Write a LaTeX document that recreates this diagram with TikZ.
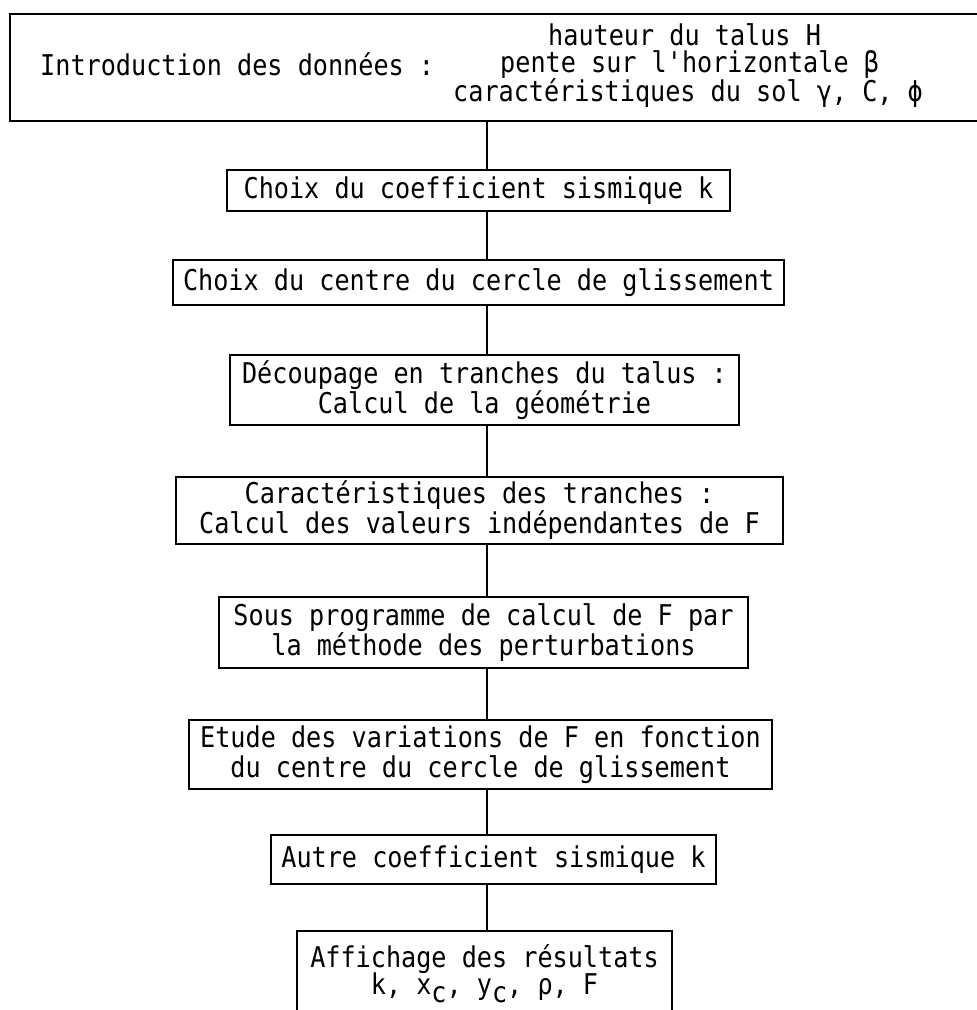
\documentclass[tikz,border=0pt]{standalone}
\usepackage{fontspec}
\newfontfamily\typew[FakeStretch=0.88]{DejaVu Sans Mono}
\begin{document}
\begin{tikzpicture}[x=1pt,y=-1pt,
  box/.style={draw, line width=1.8pt, inner sep=0pt, align=center,
    font=\typew\fontsize{28.6}{30}\selectfont},
  txt/.style={inner sep=0pt, align=center, font=\typew\fontsize{28.6}{30}\selectfont},
  link/.style={line width=1.6pt}]
\useasboundingbox (0,0) rectangle (977,1010);
\coordinate (ax) at (487,0);
% top box
\node[box, minimum width=990pt, minimum height=107pt] (top) at (505,67.5) {};
\node[txt, anchor=west] (intro) at (40,64) {Introduction des données :};
\node[txt, anchor=west] (haut) at (548,35) {hauteur du talus H};
\node[txt, anchor=west] (pente) at (500,64) {pente sur l'horizontale β};
\node[txt, anchor=west] (carsol) at (453,93) {caractéristiques du sol γ, C, ϕ};
% boxes
\node[box, minimum width=503pt, minimum height=41pt] (choix) at (478.5,190.5) {Choix du coefficient sismique k};
\node[box, minimum width=611pt, minimum height=45pt] (centre) at (478.5,282.5) {Choix du centre du cercle de glissement};
\node[box, minimum width=509pt, minimum height=70pt] (decoup) at (484.5,390) {Découpage en tranches du talus :\\Calcul de la géométrie};
\node[box, minimum width=607pt, minimum height=67pt] (caract) at (479.5,510.5) {Caractéristiques des tranches :\\Calcul des valeurs indépendantes de F};
\node[box, minimum width=529pt, minimum height=71pt] (sous) at (483.5,632.5) {Sous programme de calcul de F par\\la méthode des perturbations};
\node[box, minimum width=583pt, minimum height=69pt] (etude) at (480.5,754.5) {Etude des variations de F en fonction\\du centre du cercle de glissement};
\node[box, minimum width=445pt, minimum height=49pt] (autre) at (493.5,859.5) {Autre coefficient sismique k};
\node[box, minimum width=375pt, minimum height=120pt] (aff) at (484.5,991) {};
\node[txt, anchor=north] (afft) at (484.5,944) {Affichage des résultats\\[-3pt]k, x\raisebox{-0.3em}{c}, y\raisebox{-0.3em}{c}, ρ, F};
% connectors
\draw[link] (top.south -| ax) -- (choix.north -| ax);
\draw[link] (choix.south -| ax) -- (centre.north -| ax);
\draw[link] (centre.south -| ax) -- (decoup.north -| ax);
\draw[link] (decoup.south -| ax) -- (caract.north -| ax);
\draw[link] (caract.south -| ax) -- (sous.north -| ax);
\draw[link] (sous.south -| ax) -- (etude.north -| ax);
\draw[link] (etude.south -| ax) -- (autre.north -| ax);
\draw[link] (autre.south -| ax) -- (aff.north -| ax);
\end{tikzpicture}
\end{document}
